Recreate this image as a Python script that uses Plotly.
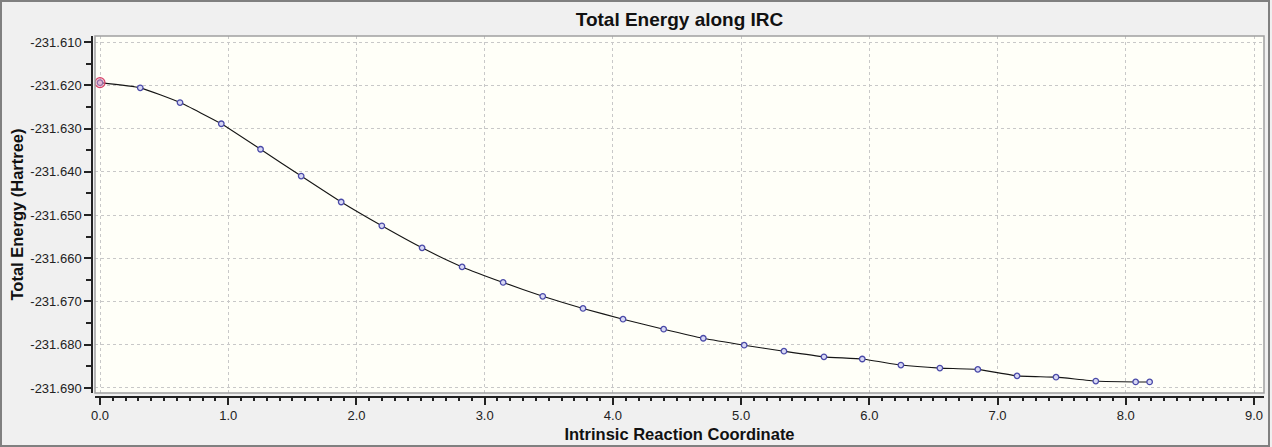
import plotly.graph_objects as go

# IRC points
irc = [0.0, 0.314, 0.624, 0.946, 1.252, 1.569, 1.881, 2.198, 2.512, 2.824,
       3.144, 3.453, 3.767, 4.079, 4.396, 4.705, 5.024, 5.334, 5.646, 5.945,
       6.246, 6.550, 6.846, 7.152, 7.456, 7.766, 8.077, 8.186]
energy = [-231.6194, -231.6206, -231.6240, -231.6289, -231.6348, -231.6410,
          -231.6470, -231.6525, -231.6576, -231.6620, -231.6656, -231.6688,
          -231.6716, -231.6741, -231.6764, -231.6785, -231.6801, -231.6815,
          -231.6828, -231.6833, -231.6847, -231.6854, -231.6857, -231.6872,
          -231.6875, -231.6884, -231.6886, -231.6886]

x_ticks = [0, 1, 2, 3, 4, 5, 6, 7, 8, 9]
y_ticks = [-231.61, -231.62, -231.63, -231.64, -231.65,
           -231.66, -231.67, -231.68, -231.69]

W, H = 1272, 447
L, R, T, B = 92, 8, 36, 50
pw, ph = W - L - R, H - T - B

fig = go.Figure()

fig.add_trace(go.Scatter(
    x=irc, y=energy, mode="lines+markers",
    line=dict(color="#151515", width=1.1, shape="spline", smoothing=0.4),
    marker=dict(symbol="circle", size=5.5, color="#d8d8f4",
                line=dict(color="#4a4aa8", width=1.3)),
    showlegend=False,
))
# highlighted current point
fig.add_trace(go.Scatter(
    x=irc[:1], y=energy[:1], mode="markers",
    marker=dict(symbol="circle", size=10, color="rgba(240,150,170,0.45)",
                line=dict(color="#d8406a", width=1.2)),
    showlegend=False,
))

fig.update_layout(
    width=W, height=H,
    margin=dict(l=L, r=R, t=T, b=B, autoexpand=False),
    paper_bgcolor="#f0f0f0",
    plot_bgcolor="#fffff8",
    font=dict(family="Liberation Sans, Arial", size=13, color="#222222"),
    title=dict(text="<b>Total Energy along IRC</b>", x=(95 + 1264) / 2 / W,
               xanchor="center", y=1 - 19 / H, yanchor="middle",
               font=dict(size=19, color="#111111")),
    xaxis=dict(
        domain=[3 / pw, 1], range=[-0.039, 9.078],
        tickvals=x_ticks, ticktext=[f"{v:.1f}" for v in x_ticks],
        showline=True, linecolor="#222222", linewidth=1.5,
        anchor="free", position=0, automargin=False,
        ticks="outside", ticklen=7, tickcolor="#222222", tickwidth=1.5,
        minor=dict(dtick=0.1, ticks="outside", ticklen=3,
                   tickcolor="#222222", showgrid=False),
        showgrid=True, gridcolor="#c8c8c8", griddash="3px,3px", gridwidth=1,
        zeroline=False,
        title=dict(text="<b>Intrinsic Reaction Coordinate</b>", standoff=5,
                   font=dict(size=16.5, color="#111111")),
    ),
    yaxis=dict(
        domain=[4 / ph, 1], range=[-231.69116, -231.60861],
        tickvals=y_ticks, ticktext=[f"{v:.3f}" for v in y_ticks],
        showline=True, linecolor="#222222", linewidth=1.5,
        anchor="free", position=0, automargin=False,
        ticks="outside", ticklen=7, tickcolor="#222222", tickwidth=1.5,
        minor=dict(dtick=0.005, ticks="outside", ticklen=5,
                   tickcolor="#222222", showgrid=False),
        showgrid=True, gridcolor="#c8c8c8", griddash="3px,3px", gridwidth=1,
        zeroline=False,
        title=dict(text="<b>Total Energy (Hartree)</b>", standoff=2,
                   font=dict(size=16.5, color="#111111")),
    ),
)

# plot frame and window border
fig.add_shape(type="rect", xref="paper", yref="paper",
              x0=3 / pw, x1=1, y0=4 / ph, y1=1,
              line=dict(color="#a0a0a0", width=1.5), layer="above")
fig.add_shape(type="rect", xref="paper", yref="paper",
              x0=(1 - L) / pw, x1=(W - 3 - L) / pw,
              y0=-(B - 1) / ph, y1=1 + (T - 1) / ph,
              line=dict(color="#808080", width=2), layer="above")

fig.write_html("out.html", config=dict(displayModeBar=False),
               post_script="document.body.style.margin='0';")
